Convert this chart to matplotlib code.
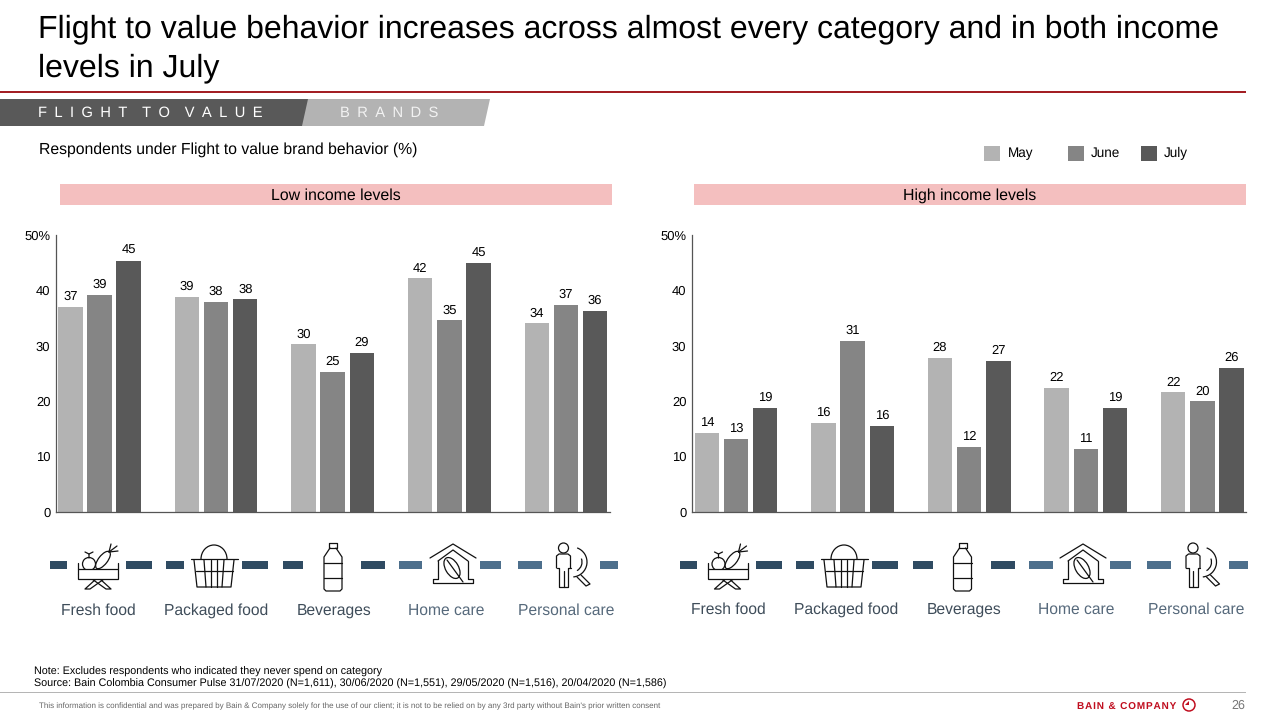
import matplotlib
matplotlib.use("Agg")
import matplotlib.pyplot as plt
from matplotlib.patches import Polygon, Rectangle, Circle, Arc, Ellipse

plt.rcParams['font.family'] = ['Liberation Sans', 'DejaVu Sans']
plt.rcParams['text.hinting'] = 'none'

W, H = 1280, 720
TITLE = "Flight to value behavior increases across almost every category and in both income\nlevels in July"
CATEGORIES = ["Fresh food", "Packaged food", "Beverages", "Home care", "Personal care"]
SERIES = ["May", "June", "July"]
COLORS = ["#b3b3b3", "#858585", "#595959"]
LOW_MAY = [37.0, 38.8, 30.3, 42.2, 34.1]
LOW_JUNE = [39.2, 37.9, 25.3, 34.6, 37.4]
LOW_JULY = [45.3, 38.4, 28.7, 44.9, 36.3]
HIGH_MAY = [14.3, 16.1, 27.8, 22.4, 21.6]
HIGH_JUNE = [13.2, 30.9, 11.7, 11.4, 20.0]
HIGH_JULY = [18.8, 15.6, 27.3, 18.8, 26.0]
YTICKS = [0, 10, 20, 30, 40, 50]
YLABELS = ["0", "10", "20", "30", "40", "50%"]

fig = plt.figure(figsize=(W / 100, H / 100), dpi=100)
bg = fig.add_axes([0, 0, 1, 1])
bg.set_xlim(0, W)
bg.set_ylim(H, 0)
bg.axis("off")
PT = 0.72
INK = "#111111"
LW = 1.25 * PT


def txt(x, y, s, px, color="black", ha="left", va="center", **kw):
    return bg.text(x, y, s, fontsize=px * PT, color=color, ha=ha, va=va, **kw)


def seg(pts, color=INK):
    xs, ys = zip(*pts)
    bg.plot(xs, ys, color=color, lw=LW, solid_capstyle="round", solid_joinstyle="round")


# Header
txt(38, 48.5, TITLE, 32.0, va="center", linespacing=1.4)
bg.plot([0, 1245], [92, 92], color="#a31f24", lw=2 * PT)
bg.add_patch(Polygon([(304, 99), (490, 99), (484, 126), (298, 126)], fc="#b3b3b3", ec="none"))
bg.add_patch(Polygon([(0, 99), (308, 99), (302, 126), (0, 126)], fc="#595959", ec="none"))
EN = "\u2002"
txt(38, 112.5, EN.join("FLIGHT") + EN * 2 + EN.join("TO") + EN * 2 + EN.join("VALUE"), 14.75, color="white")
txt(340, 112.5, EN.join("BRANDS"), 14.75, color="#f2f2f2")
txt(39, 150, "Respondents under Flight to value brand behavior (%)", 15.7)

# Legend
for x, tx, name, c in zip([984, 1068, 1141], [1008, 1091, 1164], SERIES, COLORS):
    bg.add_patch(Rectangle((x, 146), 16, 15, fc=c, ec="none"))
    txt(tx, 153, name, 13.5)

# Panel headers
for x0, label in [(60, "Low income levels"), (694, "High income levels")]:
    bg.add_patch(Rectangle((x0, 184), 552, 21, fc="#f4bfbf", ec="none"))
    txt(x0 + 276, 196, label, 15.9, ha="center")


def panel(left, first_center, values):
    right = left + 554
    ax = fig.add_axes([left / W, 1 - 512 / H, (right - left) / W, 277 / H])
    step = 116.6
    ax.set_xlim((left - first_center) / step, (right - first_center) / step)
    ax.set_ylim(0, 50)
    ax.patch.set_alpha(0)
    for i, (vals, c) in enumerate(zip(values, COLORS)):
        xs = [k + (i - 1) * 0.25 for k in range(len(vals))]
        ax.bar(xs, vals, width=0.21, color=c)
        for x, v in zip(xs, vals):
            ax.annotate(f"{v:.0f}", (x, v), xytext=(0, 4), textcoords="offset pixels",
                        ha="center", va="bottom", fontsize=13 * PT)
    ax.set_yticks(YTICKS, YLABELS, fontsize=13 * PT)
    ax.set_xticks([])
    ax.tick_params(axis="y", length=0, pad=4)
    for s in ["top", "right"]:
        ax.spines[s].set_visible(False)
    for s in ["left", "bottom"]:
        ax.spines[s].set_linewidth(0.9)
        ax.spines[s].set_color("#555555")
    return ax


panel(56, 99.5, [LOW_MAY, LOW_JUNE, LOW_JULY])
panel(692, 736, [HIGH_MAY, HIGH_JUNE, HIGH_JULY])

# Dashes
DARK, LIGHT = "#2f4b62", "#4d6f8c"
dashes_l = [(50, 67), (126, 152), (166, 184), (242, 268), (283, 303), (361, 385), (399, 422), (480, 501), (518, 542), (600, 618)]
dashes_r = [(680, 697), (756, 782), (796, 814), (872, 898), (913, 933), (991, 1015), (1029, 1053), (1110, 1131), (1147, 1171), (1229, 1248)]
for dashes in (dashes_l, dashes_r):
    for i, (a, b) in enumerate(dashes):
        bg.add_patch(Rectangle((a, 561), b - a, 8, fc=DARK if i < 6 else LIGHT, ec="none"))


def icon_food(cx, cy):
    bg.add_patch(Circle((cx - 9, cy - 3), 6.5, fc="white", ec=INK, lw=LW))
    seg([(cx - 9, cy - 9), (cx - 9, cy - 13), (cx - 13, cy - 15)])
    seg([(cx - 9, cy - 13), (cx - 5, cy - 15)])
    bg.add_patch(Ellipse((cx + 5, cy - 7), 9, 21, angle=38, fc="white", ec=INK, lw=LW))
    for dx, dy in [(19, -21), (13, -23), (20, -16)]:
        seg([(cx + 11, cy - 15), (cx + dx, cy + dy)])
    bg.add_patch(Rectangle((cx - 20, cy + 2), 40, 10, fc="white", ec=INK, lw=LW, zorder=3))
    seg([(cx - 20, cy - 4), (cx - 20, cy + 2)])
    seg([(cx + 20, cy - 4), (cx + 20, cy + 2)])
    seg([(cx - 20, cy + 7), (cx + 20, cy + 7)])
    seg([(cx + 6, cy + 12), (cx - 8, cy + 22), (cx - 13, cy + 22), (cx - 2, cy + 12)])
    seg([(cx - 6, cy + 12), (cx + 8, cy + 22), (cx + 13, cy + 22), (cx + 2, cy + 12)])


def icon_basket(cx, cy):
    bg.add_patch(Arc((cx, cy - 8), 26, 28, theta1=180, theta2=360, ec=INK, lw=LW))
    seg([(cx - 23.5, cy - 8), (cx + 23.5, cy - 8)])
    seg([(cx - 20, cy - 7), (cx - 17, cy + 20), (cx + 17, cy + 20), (cx + 20, cy - 7)])
    for d, e in [(-10, -8), (-3, -3), (3, 3), (10, 8)]:
        seg([(cx + d, cy - 7), (cx + e, cy + 20)])
    seg([(cx - 18.5, cy + 4), (cx + 18.5, cy + 4)])


def icon_bottle(cx, cy):
    seg([(cx - 4, cy - 19), (cx - 4, cy - 24), (cx + 4, cy - 24), (cx + 4, cy - 19), (cx - 4, cy - 19)])
    seg([(cx - 3, cy - 19), (cx - 9, cy - 10), (cx - 9, cy + 22), (cx - 7, cy + 24), (cx + 7, cy + 24), (cx + 9, cy + 22), (cx + 9, cy - 10), (cx + 3, cy - 19)])
    seg([(cx - 9, cy - 4), (cx + 9, cy - 4)])
    seg([(cx - 9, cy + 11), (cx + 9, cy + 11)])


def icon_house(cx, cy):
    seg([(cx - 23, cy - 9), (cx, cy - 23), (cx + 23, cy - 9)])
    seg([(cx - 15, cy - 6), (cx, cy - 17), (cx + 15, cy - 6)])
    seg([(cx - 15, cy - 6), (cx - 15, cy + 12), (cx - 20, cy + 12), (cx - 20, cy + 16), (cx + 20, cy + 16), (cx + 20, cy + 12), (cx + 15, cy + 12), (cx + 15, cy - 6)])
    bg.add_patch(Ellipse((cx - 1, cy + 1), 13, 23, angle=-30, fc="white", ec=INK, lw=LW))
    seg([(cx - 6, cy - 7), (cx + 10, cy + 15)])


def icon_person(cx, cy):
    bg.add_patch(Circle((cx - 8.5, cy - 19), 5, fc="white", ec=INK, lw=LW))
    seg([(cx - 15.5, cy + 1), (cx - 15.5, cy - 11), (cx - 13, cy - 13), (cx - 4, cy - 13), (cx - 1.5, cy - 11), (cx - 1.5, cy + 1)])
    seg([(cx - 15.5, cy + 1), (cx - 13, cy + 1), (cx - 13, cy + 20), (cx - 4, cy + 20), (cx - 4, cy + 1), (cx - 1.5, cy + 1)])
    seg([(cx - 8.5, cy + 4), (cx - 8.5, cy + 20)])
    bg.add_patch(Arc((cx, cy - 5), 30, 30, theta1=-70, theta2=85, ec=INK, lw=LW))
    bg.add_patch(Arc((cx, cy - 5), 20, 20, theta1=-20, theta2=60, ec=INK, lw=LW))
    seg([(cx + 5, cy + 10), (cx + 14, cy + 19), (cx + 18, cy + 17), (cx + 9, cy + 8)])


ICONS = [icon_food, icon_basket, icon_bottle, icon_house, icon_person]
LABEL_COLORS = ["#3f4d5a", "#3f4d5a", "#3f4d5a", "#56697b", "#56697b"]
for centers, ly, lxs in [
    ([98, 214, 333, 453, 572], 615, [98.5, 216.5, 334.5, 446, 566.5]),
    ([727.5, 844, 962.5, 1083, 1201.5], 614, [728.5, 846.5, 964.5, 1076, 1196.5]),
]:
    for f, cx, lx, name, lc in zip(ICONS, centers, lxs, CATEGORIES, LABEL_COLORS):
        f(cx, 567)
        txt(lx, ly, name, 15.6, color=lc, ha="center", va="baseline")

# Footer
txt(34, 672, "Note: Excludes respondents who indicated they never spend on category", 10.72)
txt(34, 684, "Source: Bain Colombia Consumer Pulse 31/07/2020 (N=1,611), 30/06/2020 (N=1,551), 29/05/2020 (N=1,516), 20/04/2020 (N=1,586)", 10.72)
bg.plot([0, 1245], [692, 692], color="#b5b5b5", lw=1 * PT)
txt(39, 706.5, "This information is confidential and was prepared by Bain & Company solely for the use of our client; it is not to be relied on by any 3rd party without Bain's prior written consent", 8.07, color="#666666")
txt(1077, 707, "\u200a".join("BAIN & COMPANY"), 10, color="#c00d1e", fontweight="bold")
bg.add_patch(Circle((1189, 705), 6, fc="none", ec="#c00d1e", lw=1.5 * PT))
bg.add_patch(Polygon([(1189, 701), (1189, 705), (1185, 705)], fc="#c00d1e", ec="none"))
txt(1245, 706, "26", 12.5, color="#777777", ha="right")

fig.savefig("out.png", dpi=100)
